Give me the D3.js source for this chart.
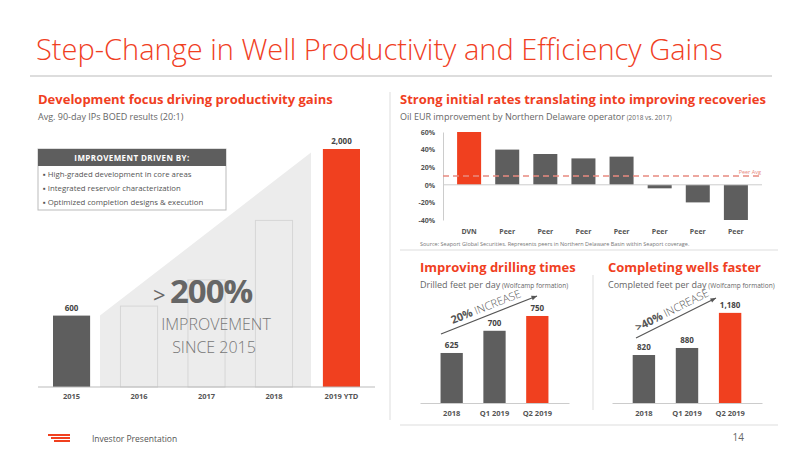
<!DOCTYPE html>
<html><head><meta charset="utf-8">
<script src="https://cdn.jsdelivr.net/npm/d3@7"></script>
<style>body{margin:0;background:#fff}text{font-family:"Open Sans",sans-serif}</style>
</head><body>
<script>
// data
const ipYears = ["2015", "2016", "2017", "2018", "2019 YTD"];
const ipValues = [600, null, null, null, 2000];
const ghostValues = [null, 680, 900, 1400, null];
const eurOps = ["DVN", "Peer", "Peer", "Peer", "Peer", "Peer", "Peer", "Peer"];
const eurValues = [60, 40, 35, 30, 32, -4, -20, -40];
const eurTicks = [60, 40, 20, 0, -20, -40];
const peerAvg = 10;
const drillCats = ["2018", "Q1 2019", "Q2 2019"];
const drillValues = [625, 700, 750];
const compCats = ["2018", "Q1 2019", "Q2 2019"];
const compValues = [820, 880, 1180];

const RED = "#f0401f", GREY = "#5e5e5e", TXT = "#666";
const svg = d3.select("body").append("svg").attr("width", 800).attr("height", 450);

// header
svg.append("text").attr("x", 36).attr("y", 60).attr("font-size", 29).attr("font-weight", 300)
  .attr("fill", RED).text("Step-Change in Well Productivity and Efficiency Gains");
svg.append("line").attr("x1", 30).attr("x2", 772).attr("y1", 76).attr("y2", 76).attr("stroke", "#bbb");

function heading(x, y, t, s, small) {
  svg.append("text").attr("x", x).attr("y", y).attr("font-size", 13).attr("font-weight", 700).attr("fill", RED).text(t);
  const st = svg.append("text").attr("x", x).attr("y", y + 16).attr("font-size", 9).attr("fill", TXT).text(s);
  if (small) st.append("tspan").attr("font-size", 6.5).text(" " + small);
}
heading(38, 104, "Development focus driving productivity gains", "Avg. 90-day IPs BOED results (20:1)");
heading(400, 104, "Strong initial rates translating into improving recoveries", "Oil EUR improvement by Northern Delaware operator", "(2018 vs. 2017)");
heading(420, 272, "Improving drilling times", "Drilled feet per day", "(Wolfcamp formation)");
heading(608, 272, "Completing wells faster", "Completed feet per day", "(Wolfcamp formation)");

// left chart
const x1 = d3.scaleBand().domain(ipYears).range([53, 360]).paddingInner(0.45).paddingOuter(0);
const y1 = d3.scaleLinear().domain([0, 2000]).range([387, 149]);
svg.append("path").attr("fill", "#ececec")
  .attr("d", `M100,387L100,${y1(ipValues[0])}L311,${y1(1970)}L311,387Z`);
ipYears.forEach((d, i) => {
  if (ghostValues[i] == null) return;
  svg.append("rect").attr("x", x1(d)).attr("width", x1.bandwidth()).attr("y", y1(ghostValues[i]))
    .attr("height", 387 - y1(ghostValues[i])).attr("fill", "none").attr("stroke", "#d6d6d6");
});
ipYears.forEach((d, i) => {
  if (ipValues[i] == null) return;
  svg.append("rect").attr("x", x1(d)).attr("width", x1.bandwidth()).attr("y", y1(ipValues[i]))
    .attr("height", 387 - y1(ipValues[i])).attr("fill", i === 4 ? RED : GREY);
  svg.append("text").attr("x", x1(d) + x1.bandwidth() / 2).attr("y", y1(ipValues[i]) - 5).attr("text-anchor", "middle")
    .attr("font-size", 8).attr("font-weight", 700).attr("fill", "#444").text(d3.format(",")(ipValues[i]));
});
svg.append("line").attr("x1", 38).attr("x2", 375).attr("y1", 387).attr("y2", 387).attr("stroke", "#bbb");
svg.append("g").attr("transform", "translate(0,387)")
  .call(d3.axisBottom(x1).tickSize(0).tickPadding(7))
  .call(g => g.select(".domain").remove())
  .call(g => g.selectAll("text").attr("font-size", 7.5).attr("font-weight", 700).attr("fill", "#555").attr("font-family", "Open Sans"));
// box
svg.append("rect").attr("x", 38).attr("y", 149).attr("width", 188).attr("height", 61).attr("fill", "#fff").attr("stroke", "#bbb");
svg.append("rect").attr("x", 38).attr("y", 149).attr("width", 188).attr("height", 17).attr("fill", GREY);
svg.append("text").attr("x", 132).attr("y", 161).attr("text-anchor", "middle").attr("fill", "#fff")
  .attr("font-size", 8).attr("font-weight", 700).attr("letter-spacing", 0.4).text("IMPROVEMENT DRIVEN BY:");
["High-graded development in core areas", "Integrated reservoir characterization", "Optimized completion designs & execution"]
  .forEach((t, i) => svg.append("text").attr("x", 43).attr("y", 177 + i * 14).attr("font-size", 7.8).attr("fill", "#555").text("▪  " + t));
svg.append("text").attr("x", 153).attr("y", 303).attr("font-size", 22).attr("fill", "#666").text(">");
svg.append("text").attr("x", 170).attr("y", 303).attr("font-size", 33).attr("font-weight", 700).attr("fill", "#666").attr("letter-spacing", -1).text("200%");
svg.append("text").attr("x", 216).attr("y", 330).attr("text-anchor", "middle").attr("font-size", 16).attr("font-weight", 300).attr("fill", "#777").text("IMPROVEMENT");
svg.append("text").attr("x", 214).attr("y", 353).attr("text-anchor", "middle").attr("font-size", 16).attr("font-weight", 300).attr("fill", "#777").text("SINCE 2015");
svg.append("line").attr("x1", 390).attr("x2", 390).attr("y1", 92).attr("y2", 420).attr("stroke", "#ddd");

// EUR chart
const x2 = d3.scaleBand().domain(d3.range(eurOps.length)).range([443, 762]).padding(0.37);
const y2 = d3.scaleLinear().domain([-40, 60]).range([220, 132]);
svg.append("g").attr("transform", "translate(443,0)")
  .call(d3.axisLeft(y2).tickValues(eurTicks).tickSize(0).tickPadding(8).tickFormat(d => d + "%"))
  .call(g => g.select(".domain").attr("stroke", "#ccc"))
  .call(g => g.selectAll("text").attr("font-size", 7).attr("font-weight", 700).attr("fill", "#555").attr("font-family", "Open Sans"));
svg.selectAll(".eur").data(eurValues).enter().append("rect")
  .attr("x", (d, i) => x2(i)).attr("width", x2.bandwidth())
  .attr("y", d => y2(Math.max(0, d))).attr("height", d => Math.abs(y2(d) - y2(0)))
  .attr("fill", (d, i) => i === 0 ? RED : GREY);
svg.append("line").attr("x1", 443).attr("x2", 762).attr("y1", y2(0)).attr("y2", y2(0)).attr("stroke", "#ccc");
svg.append("line").attr("x1", 443).attr("x2", 762).attr("y1", y2(peerAvg)).attr("y2", y2(peerAvg))
  .attr("stroke", "#e88a80").attr("stroke-width", 1.5).attr("stroke-dasharray", "6,4");
svg.append("text").attr("x", 761).attr("y", y2(peerAvg) - 2).attr("text-anchor", "end").attr("font-size", 5.5).attr("fill", "#e88a80").text("Peer Avg");
eurOps.forEach((d, i) => svg.append("text").attr("x", x2(i) + x2.bandwidth() / 2).attr("y", 234).attr("text-anchor", "middle")
  .attr("font-size", 7).attr("font-weight", 700).attr("fill", "#555").text(d));
svg.append("text").attr("x", 420).attr("y", 246).attr("font-size", 5.5).attr("fill", "#777")
  .text("Source: Seaport Global Securities. Represents peers in Northern Delaware Basin within Seaport coverage.");
svg.append("line").attr("x1", 400).attr("x2", 778).attr("y1", 250).attr("y2", 250).attr("stroke", "#ddd");

// small bar charts
function small(cats, vals, x0, x1r, ymin, ymax) {
  const xs = d3.scaleBand().domain(cats).range([x0, x1r]).padding(0.48);
  const ys = d3.scaleLinear().domain([ymin, ymax]).range([403, 300]);
  vals.forEach((v, i) => {
    svg.append("rect").attr("x", xs(cats[i])).attr("width", xs.bandwidth()).attr("y", ys(v)).attr("height", 403 - ys(v))
      .attr("fill", i === 2 ? RED : GREY);
    svg.append("text").attr("x", xs(cats[i]) + xs.bandwidth() / 2).attr("y", ys(v) - 5).attr("text-anchor", "middle")
      .attr("font-size", 8).attr("font-weight", 700).attr("fill", "#444").text(d3.format(",")(v));
  });
  svg.append("g").attr("transform", "translate(0,403)").call(d3.axisBottom(xs).tickSize(0).tickPadding(8))
    .call(g => g.select(".domain").attr("stroke", "#ccc"))
    .call(g => g.selectAll("text").attr("font-size", 7.5).attr("font-weight", 700).attr("fill", "#555").attr("font-family", "Open Sans"));
}
small(drillCats, drillValues, 420, 569, 456, 804);
small(compCats, compValues, 612, 762, 410, 1290);
svg.append("line").attr("x1", 593).attr("x2", 593).attr("y1", 275).attr("y2", 410).attr("stroke", "#ddd");

function arrow(xa, ya, xb, yb, label) {
  const ang = Math.atan2(yb - ya, xb - xa);
  svg.append("line").attr("x1", xa).attr("y1", ya).attr("x2", xb).attr("y2", yb).attr("stroke", "#555").attr("stroke-width", 1.2);
  const h = 6;
  svg.append("path").attr("fill", "#555").attr("d", `M${xb},${yb}L${xb - h * Math.cos(ang - 0.4)},${yb - h * Math.sin(ang - 0.4)}L${xb - h * Math.cos(ang + 0.4)},${yb - h * Math.sin(ang + 0.4)}Z`);
  const mx = (xa + xb) / 2 + 5 * Math.sin(ang), my = (ya + yb) / 2 - 5 * Math.cos(ang);
  const t = svg.append("text").attr("transform", `translate(${mx},${my}) rotate(${ang * 180 / Math.PI})`)
    .attr("text-anchor", "middle").attr("font-size", 11).attr("fill", "#555");
  t.append("tspan").attr("font-weight", 700).text(label[0]);
  t.append("tspan").attr("font-weight", 300).text(label[1]);
}
arrow(441, 334, 537, 296, ["20% ", "INCREASE"]);
arrow(636, 338, 716, 298, [">40% ", "INCREASE"]);

// footer
svg.append("line").attr("x1", 400).attr("x2", 778).attr("y1", 425).attr("y2", 425).attr("stroke", "#ddd");
[0, 1, 2].forEach(i => svg.append("rect").attr("x", 48 + i * 3).attr("y", 434 + i * 3).attr("width", 22 - i * 3).attr("height", 2).attr("fill", RED));
svg.append("text").attr("x", 92).attr("y", 442).attr("font-size", 8.5).attr("fill", "#555").text("Investor Presentation");
svg.append("text").attr("x", 744).attr("y", 441).attr("text-anchor", "end").attr("font-size", 10).attr("fill", "#666").text("14");
</script>
</body></html>
